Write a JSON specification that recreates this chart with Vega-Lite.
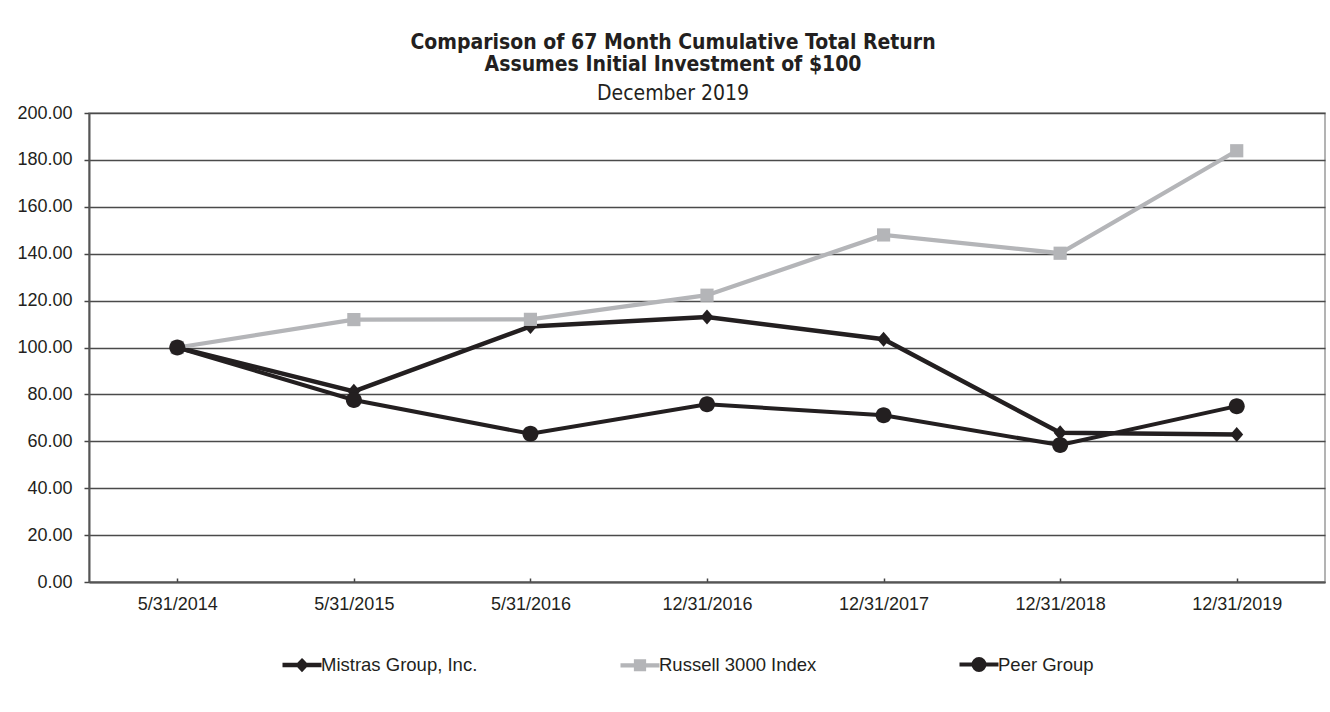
{
  "$schema": "https://vega.github.io/schema/vega-lite/v6.json",
  "width": 1236,
  "height": 469,
  "autosize": {"type": "none"},
  "padding": {"left": 89, "top": 113, "right": 5, "bottom": 130},
  "background": "white",
  "title": {
    "text": ["Comparison of 67 Month Cumulative Total Return", "Assumes Initial Investment of $100"],
    "subtitle": "December 2019",
    "anchor": "middle",
    "frame": "group",
    "dx": -34,
    "offset": 0,
    "font": "DejaVu Sans Condensed, DejaVu Sans, sans-serif",
    "fontSize": 21,
    "fontWeight": "bold",
    "lineHeight": 22,
    "color": "#231f20",
    "subtitleFont": "DejaVu Sans Condensed, DejaVu Sans, sans-serif",
    "subtitleFontSize": 21,
    "subtitleFontWeight": "normal",
    "subtitleColor": "#231f20",
    "subtitleLineHeight": 21,
    "subtitlePadding": 8
  },
  "data": {
    "values": [
      {"date": "5/31/2014", "series": "Mistras Group, Inc.", "value": 100.0},
      {"date": "5/31/2015", "series": "Mistras Group, Inc.", "value": 81.3},
      {"date": "5/31/2016", "series": "Mistras Group, Inc.", "value": 109.0},
      {"date": "12/31/2016", "series": "Mistras Group, Inc.", "value": 113.0},
      {"date": "12/31/2017", "series": "Mistras Group, Inc.", "value": 103.5},
      {"date": "12/31/2018", "series": "Mistras Group, Inc.", "value": 63.6},
      {"date": "12/31/2019", "series": "Mistras Group, Inc.", "value": 62.9},
      {"date": "5/31/2014", "series": "Russell 3000 Index", "value": 100.0},
      {"date": "5/31/2015", "series": "Russell 3000 Index", "value": 111.9},
      {"date": "5/31/2016", "series": "Russell 3000 Index", "value": 112.0},
      {"date": "12/31/2016", "series": "Russell 3000 Index", "value": 122.3},
      {"date": "12/31/2017", "series": "Russell 3000 Index", "value": 148.0},
      {"date": "12/31/2018", "series": "Russell 3000 Index", "value": 140.2},
      {"date": "12/31/2019", "series": "Russell 3000 Index", "value": 183.9},
      {"date": "5/31/2014", "series": "Peer Group", "value": 100.0},
      {"date": "5/31/2015", "series": "Peer Group", "value": 77.6},
      {"date": "5/31/2016", "series": "Peer Group", "value": 63.2},
      {"date": "12/31/2016", "series": "Peer Group", "value": 75.8},
      {"date": "12/31/2017", "series": "Peer Group", "value": 71.1},
      {"date": "12/31/2018", "series": "Peer Group", "value": 58.4},
      {"date": "12/31/2019", "series": "Peer Group", "value": 75.0}
    ]
  },
  "encoding": {
    "x": {
      "field": "date",
      "type": "ordinal",
      "sort": null,
      "scale": {"type": "point", "padding": 0.5},
      "axis": {
        "title": null,
        "labelAngle": 0,
        "labelFont": "Liberation Sans, Arial, sans-serif",
        "labelFontSize": 18,
        "labelColor": "#231f20",
        "labelPadding": 17,
        "tickSize": -4,
        "tickColor": "#444444",
        "tickWidth": 1.5,
        "domainColor": "#555555",
        "domainWidth": 2,
        "grid": false
      }
    },
    "y": {
      "field": "value",
      "type": "quantitative",
      "scale": {"domain": [0, 200], "nice": false},
      "axis": {
        "title": null,
        "values": [0, 20, 40, 60, 80, 100, 120, 140, 160, 180, 200],
        "format": ".2f",
        "labelFont": "Liberation Sans, Arial, sans-serif",
        "labelFontSize": 18,
        "labelColor": "#231f20",
        "labelPadding": 12,
        "tickSize": 5,
        "tickColor": "#444444",
        "tickWidth": 1.5,
        "domainColor": "#555555",
        "domainWidth": 2,
        "grid": true,
        "gridColor": "#4a4a4a",
        "gridWidth": 1.5
      }
    },
    "color": {
      "field": "series",
      "type": "nominal",
      "scale": {
        "domain": ["Mistras Group, Inc.", "Russell 3000 Index", "Peer Group"],
        "range": ["#231f20", "#b4b5b8", "#231f20"]
      },
      "legend": {
        "title": null,
        "orient": "none",
        "legendX": 191,
        "legendY": 530,
        "direction": "horizontal",
        "columns": 3,
        "columnPadding": 134,
        "symbolSize": 1521,
        "symbolOpacity": 1,
        "labelFont": "Liberation Sans, Arial, sans-serif",
        "labelFontSize": 18.5,
        "labelColor": "#231f20",
        "labelOffset": -3,
        "labelLimit": 400
      }
    }
  },
  "layer": [
    {
      "mark": {"type": "line"},
      "encoding": {
        "strokeWidth": {
          "field": "series",
          "type": "nominal",
          "scale": {
            "domain": ["Mistras Group, Inc.", "Russell 3000 Index", "Peer Group"],
            "range": [4.5, 4, 3]
          },
          "legend": null
        }
      }
    },
    {
      "mark": {"type": "point", "filled": true, "size": 400, "opacity": 0},
      "encoding": {
        "shape": {
          "field": "series",
          "type": "nominal",
          "scale": {
            "domain": ["Mistras Group, Inc.", "Russell 3000 Index", "Peer Group"],
            "range": [
              "M-1,0H1M0,-0.2L0.19,0L0,0.2L-0.19,0ZM0,-0.08L0.08,0L0,0.08L-0.08,0Z",
              "M-1,0H1M-0.205,-0.205H0.205V0.205H-0.205Z",
              "M-1,0H1M-0.282,0A0.282,0.282,0,1,1,0.282,0A0.282,0.282,0,1,1,-0.282,0ZM-0.128,0A0.128,0.128,0,1,1,0.128,0A0.128,0.128,0,1,1,-0.128,0ZM-0.04,0A0.04,0.04,0,1,1,0.04,0A0.04,0.04,0,1,1,-0.04,0Z"
            ]
          }
        }
      }
    },
    {
      "transform": [{"filter": "datum.series === 'Mistras Group, Inc.'"}],
      "mark": {"type": "point", "filled": true, "size": 400, "opacity": 1, "strokeWidth": 0, "shape": "M0,-0.75L0.65,0L0,0.75L-0.65,0Z"}
    },
    {
      "transform": [{"filter": "datum.series === 'Russell 3000 Index'"}],
      "mark": {"type": "point", "filled": true, "size": 400, "opacity": 1, "strokeWidth": 0, "shape": "M-0.66,-0.66H0.66V0.66H-0.66Z"}
    },
    {
      "transform": [{"filter": "datum.series === 'Peer Group'"}],
      "mark": {"type": "point", "filled": true, "size": 400, "opacity": 1, "strokeWidth": 0, "shape": "M-0.8,0A0.8,0.8,0,1,1,0.8,0A0.8,0.8,0,1,1,-0.8,0Z"}
    }
  ],
  "config": {
    "view": {"stroke": "#9a9a9a", "strokeWidth": 1.5}
  }
}
